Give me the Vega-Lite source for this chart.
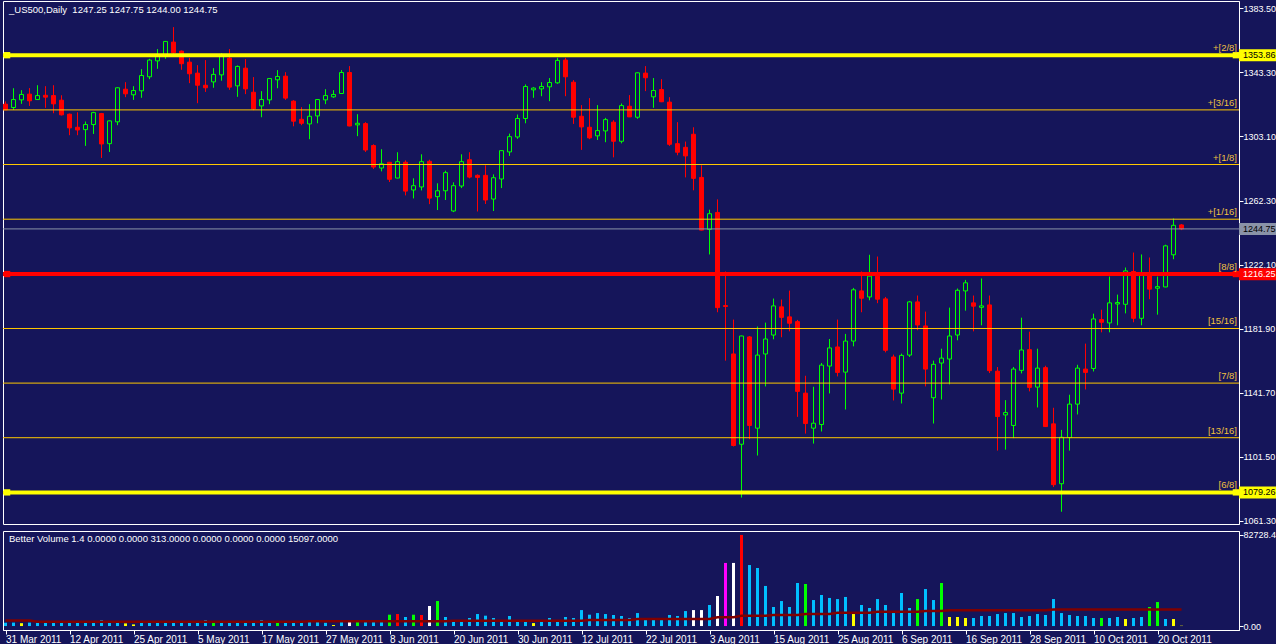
{
"$schema": "https://vega.github.io/schema/vega-lite/v6.json",
"background": "#15155a",
"padding": {"left": 0, "top": 0, "right": 0, "bottom": 0},
"config": {
 "view": {"stroke": "#ffffff", "strokeWidth": 1, "fill": "#15155a"},
 "axis": {"labelColor": "#ffffff", "tickColor": "#ffffff", "domainColor": "#ffffff", "labelFont": "Liberation Sans", "labelFontSize": 9, "grid": false, "tickSize": 4},
 "title": {"color": "#ffffff", "font": "Liberation Sans", "fontSize": 9.5, "fontWeight": "normal", "anchor": "start", "frame": "group"},
 "scale": {"continuousPadding": 0},
 "concat": {"spacing": 3}
},
"datasets": {
"bars": [
{"i":0,"o":1323.1,"h":1324.8,"l":1319.5,"c":1319.5,"v":3000,"vk":"neutral","va":5000},
{"i":1,"o":1321.0,"h":1333.1,"l":1319.5,"c":1326.0,"v":3100,"vk":"neutral","va":5000},
{"i":2,"o":1325.8,"h":1331.9,"l":1323.3,"c":1329.2,"v":2600,"vk":"low","va":5000},
{"i":3,"o":1329.4,"h":1333.2,"l":1322.0,"c":1325.2,"v":3100,"vk":"neutral","va":5000},
{"i":4,"o":1326.0,"h":1335.0,"l":1325.8,"c":1328.5,"v":3000,"vk":"neutral","va":3900},
{"i":5,"o":1328.7,"h":1334.4,"l":1320.8,"c":1327.5,"v":3000,"vk":"neutral","va":3900},
{"i":6,"o":1328.5,"h":1335.0,"l":1317.4,"c":1323.3,"v":3100,"vk":"neutral","va":3900},
{"i":7,"o":1325.6,"h":1328.7,"l":1316.0,"c":1316.4,"v":3000,"vk":"neutral","va":3900},
{"i":8,"o":1316.8,"h":1317.2,"l":1303.6,"c":1308.2,"v":3000,"vk":"neutral","va":3900},
{"i":9,"o":1308.6,"h":1318.0,"l":1303.6,"c":1306.9,"v":3100,"vk":"neutral","va":3900},
{"i":10,"o":1307.1,"h":1312.2,"l":1296.9,"c":1310.3,"v":3000,"vk":"neutral","va":3900},
{"i":11,"o":1310.3,"h":1318.3,"l":1304.4,"c":1317.8,"v":3000,"vk":"neutral","va":3900},
{"i":12,"o":1317.2,"h":1317.6,"l":1289.3,"c":1298.1,"v":5400,"vk":"neutral","va":3900},
{"i":13,"o":1298.3,"h":1312.8,"l":1293.1,"c":1312.6,"v":3000,"vk":"neutral","va":3900},
{"i":14,"o":1312.0,"h":1333.6,"l":1309.9,"c":1333.4,"v":3100,"vk":"neutral","va":3900},
{"i":15,"o":1332.5,"h":1336.9,"l":1327.5,"c":1329.6,"v":2400,"vk":"low","va":3900},
{"i":16,"o":1329.0,"h":1334.4,"l":1325.8,"c":1331.7,"v":1500,"vk":"low","va":3900},
{"i":17,"o":1331.5,"h":1345.1,"l":1327.1,"c":1341.1,"v":2900,"vk":"neutral","va":3900},
{"i":18,"o":1340.3,"h":1351.6,"l":1338.8,"c":1350.8,"v":3000,"vk":"neutral","va":3900},
{"i":19,"o":1350.3,"h":1357.7,"l":1345.3,"c":1353.7,"v":2900,"vk":"neutral","va":3900},
{"i":20,"o":1353.7,"h":1362.8,"l":1351.6,"c":1362.5,"v":3000,"vk":"neutral","va":3900},
{"i":21,"o":1362.1,"h":1371.5,"l":1353.7,"c":1355.4,"v":3000,"vk":"neutral","va":3900},
{"i":22,"o":1356.4,"h":1356.8,"l":1344.7,"c":1348.5,"v":3100,"vk":"neutral","va":3900},
{"i":23,"o":1349.5,"h":1352.2,"l":1336.3,"c":1342.2,"v":3000,"vk":"neutral","va":3900},
{"i":24,"o":1342.6,"h":1347.6,"l":1323.7,"c":1335.0,"v":3000,"vk":"neutral","va":3900},
{"i":25,"o":1335.0,"h":1350.8,"l":1330.8,"c":1333.4,"v":5400,"vk":"neutral","va":3900},
{"i":26,"o":1337.1,"h":1345.7,"l":1333.4,"c":1341.8,"v":3000,"vk":"churn","va":3900},
{"i":27,"o":1341.5,"h":1355.2,"l":1337.8,"c":1353.3,"v":3000,"vk":"neutral","va":3900},
{"i":28,"o":1352.0,"h":1357.7,"l":1332.1,"c":1333.8,"v":3000,"vk":"neutral","va":3900},
{"i":29,"o":1334.6,"h":1347.4,"l":1327.7,"c":1346.8,"v":3100,"vk":"neutral","va":3900},
{"i":30,"o":1345.7,"h":1351.4,"l":1329.4,"c":1332.7,"v":3000,"vk":"neutral","va":3900},
{"i":31,"o":1330.6,"h":1340.1,"l":1319.3,"c":1320.1,"v":3000,"vk":"neutral","va":3900},
{"i":32,"o":1322.0,"h":1331.3,"l":1314.9,"c":1326.0,"v":5400,"vk":"neutral","va":3900},
{"i":33,"o":1325.8,"h":1339.4,"l":1323.1,"c":1339.2,"v":3000,"vk":"neutral","va":3900},
{"i":34,"o":1338.4,"h":1344.5,"l":1333.1,"c":1340.5,"v":3000,"vk":"churn","va":3900},
{"i":35,"o":1340.7,"h":1343.2,"l":1325.8,"c":1326.9,"v":3000,"vk":"neutral","va":3900},
{"i":36,"o":1325.0,"h":1325.6,"l":1309.2,"c":1312.4,"v":3000,"vk":"neutral","va":3900},
{"i":37,"o":1313.6,"h":1321.2,"l":1309.9,"c":1311.1,"v":3100,"vk":"neutral","va":3900},
{"i":38,"o":1310.7,"h":1323.1,"l":1301.1,"c":1315.5,"v":3900,"vk":"neutral","va":4300},
{"i":39,"o":1315.7,"h":1326.2,"l":1311.1,"c":1326.0,"v":3900,"vk":"neutral","va":4300},
{"i":40,"o":1325.8,"h":1332.5,"l":1323.1,"c":1328.5,"v":3000,"vk":"neutral","va":4300},
{"i":41,"o":1327.7,"h":1331.9,"l":1327.1,"c":1329.2,"v":900,"vk":"low","va":4300},
{"i":42,"o":1329.8,"h":1344.5,"l":1329.6,"c":1343.0,"v":3900,"vk":"neutral","va":4300},
{"i":43,"o":1343.0,"h":1347.0,"l":1309.2,"c":1309.4,"v":4300,"vk":"climaxdn","va":4300},
{"i":44,"o":1310.1,"h":1316.8,"l":1303.0,"c":1311.1,"v":3900,"vk":"churn","va":4300},
{"i":45,"o":1310.9,"h":1311.8,"l":1293.1,"c":1294.3,"v":3900,"vk":"neutral","va":4300},
{"i":46,"o":1297.1,"h":1297.9,"l":1282.4,"c":1283.6,"v":3900,"vk":"neutral","va":4300},
{"i":47,"o":1283.0,"h":1294.8,"l":1280.9,"c":1285.7,"v":3900,"vk":"neutral","va":4300},
{"i":48,"o":1286.6,"h":1286.8,"l":1274.2,"c":1275.9,"v":10300,"vk":"churn","va":4300},
{"i":49,"o":1276.7,"h":1292.9,"l":1276.5,"c":1287.0,"v":10900,"vk":"climaxup","va":4300},
{"i":50,"o":1286.6,"h":1287.8,"l":1265.8,"c":1268.5,"v":8200,"vk":"neutral","va":4300},
{"i":51,"o":1269.2,"h":1276.5,"l":1263.9,"c":1271.9,"v":10300,"vk":"churn","va":4300},
{"i":52,"o":1271.1,"h":1291.6,"l":1268.9,"c":1287.0,"v":10000,"vk":"climaxup","va":4300},
{"i":53,"o":1287.2,"h":1288.2,"l":1260.3,"c":1264.1,"v":18200,"vk":"climaxdn","va":4300},
{"i":54,"o":1265.0,"h":1273.4,"l":1256.6,"c":1268.7,"v":22700,"vk":"churn","va":4300},
{"i":55,"o":1268.7,"h":1281.3,"l":1262.9,"c":1280.1,"v":8200,"vk":"neutral","va":4300},
{"i":56,"o":1256.0,"h":1274.0,"l":1255.3,"c":1271.9,"v":5000,"vk":"neutral","va":4800},
{"i":57,"o":1271.7,"h":1291.6,"l":1270.4,"c":1287.0,"v":5000,"vk":"neutral","va":4800},
{"i":58,"o":1288.2,"h":1292.9,"l":1276.5,"c":1277.3,"v":7300,"vk":"neutral","va":4800},
{"i":59,"o":1278.4,"h":1279.0,"l":1255.7,"c":1277.1,"v":10900,"vk":"neutral","va":4800},
{"i":60,"o":1278.4,"h":1284.7,"l":1260.4,"c":1262.9,"v":9400,"vk":"neutral","va":4800},
{"i":61,"o":1263.5,"h":1279.0,"l":1256.0,"c":1276.9,"v":7300,"vk":"neutral","va":4800},
{"i":62,"o":1276.1,"h":1294.1,"l":1270.4,"c":1293.9,"v":5000,"vk":"neutral","va":4800},
{"i":63,"o":1293.1,"h":1304.6,"l":1290.6,"c":1302.7,"v":9100,"vk":"neutral","va":4800},
{"i":64,"o":1302.5,"h":1316.6,"l":1301.3,"c":1314.1,"v":5000,"vk":"neutral","va":4800},
{"i":65,"o":1314.1,"h":1335.5,"l":1311.1,"c":1334.2,"v":5000,"vk":"neutral","va":4800},
{"i":66,"o":1332.1,"h":1333.8,"l":1327.1,"c":1333.2,"v":2700,"vk":"low","va":4800},
{"i":67,"o":1332.7,"h":1336.9,"l":1328.1,"c":1334.2,"v":5000,"vk":"neutral","va":4800},
{"i":68,"o":1334.0,"h":1339.5,"l":1325.0,"c":1336.7,"v":7300,"vk":"neutral","va":4800},
{"i":69,"o":1336.5,"h":1352.2,"l":1335.9,"c":1350.6,"v":5000,"vk":"neutral","va":4800},
{"i":70,"o":1350.8,"h":1352.2,"l":1328.1,"c":1340.3,"v":8200,"vk":"neutral","va":4800},
{"i":71,"o":1336.9,"h":1338.2,"l":1310.7,"c":1314.9,"v":7300,"vk":"neutral","va":4800},
{"i":72,"o":1315.5,"h":1322.5,"l":1294.4,"c":1308.8,"v":14500,"vk":"neutral","va":4800},
{"i":73,"o":1308.6,"h":1326.9,"l":1301.1,"c":1301.9,"v":10300,"vk":"neutral","va":5500},
{"i":74,"o":1303.2,"h":1322.5,"l":1300.6,"c":1306.5,"v":11800,"vk":"neutral","va":5500},
{"i":75,"o":1306.3,"h":1314.5,"l":1299.2,"c":1313.4,"v":10900,"vk":"neutral","va":5500},
{"i":76,"o":1311.8,"h":1313.0,"l":1289.7,"c":1299.8,"v":10000,"vk":"neutral","va":5500},
{"i":77,"o":1299.8,"h":1323.5,"l":1298.5,"c":1322.2,"v":9100,"vk":"neutral","va":5500},
{"i":78,"o":1321.8,"h":1328.8,"l":1315.0,"c":1315.1,"v":7300,"vk":"neutral","va":5500},
{"i":79,"o":1314.9,"h":1343.0,"l":1313.9,"c":1342.8,"v":11800,"vk":"neutral","va":6400},
{"i":80,"o":1342.6,"h":1347.0,"l":1331.3,"c":1339.7,"v":5500,"vk":"neutral","va":6400},
{"i":81,"o":1327.7,"h":1339.5,"l":1320.8,"c":1331.7,"v":5500,"vk":"neutral","va":6400},
{"i":82,"o":1332.3,"h":1338.8,"l":1324.4,"c":1324.6,"v":5500,"vk":"neutral","va":6400},
{"i":83,"o":1324.4,"h":1327.5,"l":1296.9,"c":1297.9,"v":10000,"vk":"neutral","va":6400},
{"i":84,"o":1298.3,"h":1311.8,"l":1291.0,"c":1292.9,"v":9100,"vk":"neutral","va":6400},
{"i":85,"o":1296.0,"h":1299.6,"l":1277.1,"c":1290.6,"v":13600,"vk":"neutral","va":6400},
{"i":86,"o":1304.2,"h":1308.6,"l":1269.0,"c":1276.5,"v":14500,"vk":"climaxdn","va":6400},
{"i":87,"o":1277.1,"h":1284.7,"l":1243.8,"c":1244.0,"v":14500,"vk":"climaxdn","va":6400},
{"i":88,"o":1244.4,"h":1256.8,"l":1228.7,"c":1254.3,"v":19100,"vk":"neutral","va":6400},
{"i":89,"o":1255.1,"h":1263.3,"l":1192.4,"c":1195.3,"v":27300,"vk":"climaxdn","va":8000},
{"i":90,"o":1196.6,"h":1218.0,"l":1162.0,"c":1196.0,"v":57300,"vk":"churnclimax","va":8000},
{"i":91,"o":1166.2,"h":1187.8,"l":1108.1,"c":1108.7,"v":57300,"vk":"climaxdn","va":8000},
{"i":92,"o":1109.5,"h":1177.7,"l":1076.0,"c":1177.5,"v":82728,"vk":"climaxup","va":9400},
{"i":93,"o":1176.9,"h":1177.5,"l":1112.7,"c":1121.3,"v":55400,"vk":"neutral","va":9400},
{"i":94,"o":1119.6,"h":1183.4,"l":1102.4,"c":1165.5,"v":52700,"vk":"neutral","va":9400},
{"i":95,"o":1166.2,"h":1185.9,"l":1145.8,"c":1175.6,"v":36400,"vk":"neutral","va":9400},
{"i":96,"o":1178.1,"h":1201.0,"l":1175.4,"c":1196.4,"v":17300,"vk":"neutral","va":10000},
{"i":97,"o":1195.8,"h":1200.4,"l":1176.7,"c":1189.2,"v":22700,"vk":"neutral","va":10000},
{"i":98,"o":1189.5,"h":1206.0,"l":1180.4,"c":1185.5,"v":17300,"vk":"neutral","va":10000},
{"i":99,"o":1186.5,"h":1187.6,"l":1126.7,"c":1142.7,"v":39100,"vk":"neutral","va":10000},
{"i":100,"o":1141.6,"h":1152.5,"l":1116.2,"c":1122.5,"v":38200,"vk":"churn","va":11000},
{"i":101,"o":1119.6,"h":1145.6,"l":1109.9,"c":1122.7,"v":23600,"vk":"neutral","va":11000},
{"i":102,"o":1121.9,"h":1160.5,"l":1117.5,"c":1159.2,"v":28200,"vk":"neutral","va":11000},
{"i":103,"o":1158.6,"h":1175.6,"l":1141.4,"c":1170.0,"v":25500,"vk":"neutral","va":11000},
{"i":104,"o":1170.6,"h":1187.8,"l":1152.1,"c":1154.6,"v":24500,"vk":"neutral","va":12000},
{"i":105,"o":1154.8,"h":1178.8,"l":1131.3,"c":1174.3,"v":26400,"vk":"neutral","va":12000},
{"i":106,"o":1174.3,"h":1207.7,"l":1171.0,"c":1206.5,"v":10900,"vk":"low","va":12000},
{"i":107,"o":1205.8,"h":1218.0,"l":1192.4,"c":1201.2,"v":19100,"vk":"neutral","va":12000},
{"i":108,"o":1202.0,"h":1228.5,"l":1199.9,"c":1215.1,"v":16400,"vk":"neutral","va":12000},
{"i":109,"o":1215.1,"h":1227.4,"l":1198.1,"c":1200.6,"v":24500,"vk":"neutral","va":12900},
{"i":110,"o":1200.8,"h":1202.0,"l":1167.2,"c":1168.5,"v":19100,"vk":"neutral","va":12900},
{"i":111,"o":1164.3,"h":1165.8,"l":1137.0,"c":1144.1,"v":11800,"vk":"neutral","va":12900},
{"i":112,"o":1141.6,"h":1166.4,"l":1135.1,"c":1165.3,"v":30000,"vk":"neutral","va":12900},
{"i":113,"o":1165.5,"h":1199.5,"l":1164.3,"c":1198.9,"v":16400,"vk":"neutral","va":12900},
{"i":114,"o":1198.9,"h":1202.9,"l":1181.1,"c":1184.4,"v":24500,"vk":"churn","va":12900},
{"i":115,"o":1183.8,"h":1192.8,"l":1145.8,"c":1156.7,"v":33600,"vk":"neutral","va":13700},
{"i":116,"o":1138.7,"h":1162.0,"l":1122.5,"c":1159.7,"v":23600,"vk":"neutral","va":13700},
{"i":117,"o":1160.5,"h":1169.5,"l":1137.6,"c":1163.6,"v":39100,"vk":"churn","va":13700},
{"i":118,"o":1163.0,"h":1195.3,"l":1147.1,"c":1177.5,"v":8200,"vk":"low","va":14300},
{"i":119,"o":1178.1,"h":1207.3,"l":1174.8,"c":1206.2,"v":8200,"vk":"low","va":14300},
{"i":120,"o":1205.8,"h":1212.7,"l":1193.4,"c":1210.9,"v":7300,"vk":"low","va":14300},
{"i":121,"o":1198.3,"h":1202.9,"l":1180.4,"c":1196.2,"v":7300,"vk":"neutral","va":14300},
{"i":122,"o":1195.5,"h":1213.6,"l":1184.2,"c":1196.4,"v":9100,"vk":"neutral","va":14300},
{"i":123,"o":1197.0,"h":1202.9,"l":1154.2,"c":1155.7,"v":9100,"vk":"neutral","va":14300},
{"i":124,"o":1155.4,"h":1158.0,"l":1105.5,"c":1126.9,"v":10900,"vk":"neutral","va":14300},
{"i":125,"o":1127.9,"h":1137.2,"l":1106.1,"c":1129.4,"v":11800,"vk":"neutral","va":14300},
{"i":126,"o":1121.3,"h":1158.0,"l":1113.3,"c":1156.7,"v":11800,"vk":"neutral","va":14300},
{"i":127,"o":1155.9,"h":1189.0,"l":1154.0,"c":1168.7,"v":8200,"vk":"neutral","va":14300},
{"i":128,"o":1168.9,"h":1180.2,"l":1142.7,"c":1145.2,"v":9100,"vk":"neutral","va":14300},
{"i":129,"o":1145.4,"h":1169.5,"l":1132.6,"c":1157.3,"v":10900,"vk":"neutral","va":14300},
{"i":130,"o":1157.6,"h":1158.8,"l":1120.4,"c":1120.6,"v":10000,"vk":"neutral","va":14300},
{"i":131,"o":1122.3,"h":1132.4,"l":1082.6,"c":1084.1,"v":24500,"vk":"neutral","va":15097},
{"i":132,"o":1084.7,"h":1118.5,"l":1067.1,"c":1113.9,"v":11800,"vk":"neutral","va":15097},
{"i":133,"o":1113.7,"h":1140.6,"l":1105.5,"c":1134.7,"v":10000,"vk":"neutral","va":15097},
{"i":134,"o":1134.7,"h":1159.4,"l":1128.2,"c":1157.3,"v":9100,"vk":"neutral","va":15097},
{"i":135,"o":1156.7,"h":1172.7,"l":1143.9,"c":1154.6,"v":9100,"vk":"neutral","va":15097},
{"i":136,"o":1157.1,"h":1191.5,"l":1155.2,"c":1188.2,"v":7300,"vk":"neutral","va":15097},
{"i":137,"o":1187.8,"h":1194.0,"l":1179.8,"c":1186.1,"v":7300,"vk":"churn","va":15097},
{"i":138,"o":1185.7,"h":1214.8,"l":1179.8,"c":1198.3,"v":7300,"vk":"neutral","va":15097},
{"i":139,"o":1197.6,"h":1203.5,"l":1184.2,"c":1198.5,"v":8200,"vk":"neutral","va":15097},
{"i":140,"o":1197.4,"h":1220.5,"l":1191.7,"c":1218.4,"v":6400,"vk":"low","va":15097},
{"i":141,"o":1218.0,"h":1229.9,"l":1186.1,"c":1188.6,"v":7300,"vk":"neutral","va":15097},
{"i":142,"o":1188.6,"h":1228.7,"l":1184.2,"c":1216.7,"v":8200,"vk":"neutral","va":15097},
{"i":143,"o":1216.5,"h":1226.8,"l":1200.6,"c":1206.9,"v":17300,"vk":"churn","va":15097},
{"i":144,"o":1207.5,"h":1214.8,"l":1190.9,"c":1208.5,"v":21800,"vk":"churn","va":15097},
{"i":145,"o":1208.3,"h":1234.8,"l":1208.1,"c":1234.1,"v":6400,"vk":"neutral","va":15097},
{"i":146,"o":1228.5,"h":1251.3,"l":1225.7,"c":1247.0,"v":6400,"vk":"low","va":15097},
{"i":147,"o":1247.25,"h":1247.75,"l":1244.0,"c":1244.75,"v":313,"vk":"low","va":15097}
],
"levels": [
{"p":1353.86,"k":"outer","t":"+[2/8]"},
{"p":1319.5,"k":"minor","t":"+[3/16]"},
{"p":1285.2,"k":"minor","t":"+[1/8]"},
{"p":1250.85,"k":"minor","t":"+[1/16]"},
{"p":1216.4,"k":"pivot","t":"[8/8]"},
{"p":1182.2,"k":"minor","t":"[15/16]"},
{"p":1147.9,"k":"minor","t":"[7/8]"},
{"p":1113.6,"k":"minor","t":"[13/16]"},
{"p":1079.26,"k":"outer","t":"[6/8]"},
{"p":1244.75,"k":"bid","t":""}
],
"tags": [
{"p":1353.86,"k":"outer","t":"1353.86"},
{"p":1244.75,"k":"bid","t":"1244.75"},
{"p":1216.25,"k":"pivot","t":"1216.25"},
{"p":1079.26,"k":"outer","t":"1079.26"}
]
},
"resolve": {"scale": {"x": "independent", "y": "independent", "color": "independent"}},
"vconcat": [
{
 "width": 1236, "height": 523,
 "title": {"text": "_US500,Daily\u00a0\u00a01247.25 1247.75 1244.00 1244.75", "offset": -13, "dx": 6},
 "layer": [
  {
   "data": {"name": "bars"},
   "mark": {"type": "rule", "strokeWidth": 1},
   "encoding": {
    "x": {"field": "i", "type": "quantitative", "scale": {"domain": [-0.3125, 154.1875], "nice": false, "zero": false, "padding": 0}, "axis": null},
    "y": {"field": "l", "type": "quantitative", "scale": {"domain": [1059.4, 1387.9], "nice": false, "zero": false, "padding": 0},
          "axis": {"orient": "right", "title": null, "values": [1383.5,1363.1,1343.3,1322.9,1303.1,1282.7,1262.3,1242.5,1222.1,1202.3,1181.9,1161.5,1141.7,1121.3,1101.5,1081.1,1061.3], "format": ".2f", "labelPadding": 0, "labelOverlap": false, "labelFlush": false}},
    "y2": {"field": "h"},
    "color": {"condition": {"test": "datum.c >= datum.o", "value": "#00ff00"}, "value": "#ff0000"}
   }
  },
  {
   "data": {"name": "bars"},
   "mark": {"type": "bar", "width": 4, "strokeWidth": 1},
   "encoding": {
    "x": {"field": "i", "type": "quantitative"},
    "y": {"field": "o", "type": "quantitative"},
    "y2": {"field": "c"},
    "fill": {"condition": {"test": "datum.c >= datum.o", "value": "#15155a"}, "value": "#ff0000"},
    "stroke": {"condition": {"test": "datum.c >= datum.o", "value": "#00ff00"}, "value": "#ff0000"}
   }
  },
  {
   "data": {"name": "levels"},
   "transform": [{"filter": "datum.k == 'minor' || datum.k == 'bid'"}],
   "mark": {"type": "rule", "strokeWidth": 1},
   "encoding": {
    "y": {"field": "p", "type": "quantitative"},
    "color": {"field": "k", "type": "nominal", "scale": {"domain": ["outer","minor","pivot","bid"], "range": ["#ffff00","#ffc800","#ff0000","#8a93a8"]}, "legend": null}
   }
  },
  {
   "data": {"name": "levels"},
   "transform": [{"filter": "datum.k == 'outer' || datum.k == 'pivot'"}],
   "mark": {"type": "rule", "strokeWidth": 4},
   "encoding": {
    "y": {"field": "p", "type": "quantitative"},
    "color": {"field": "k", "type": "nominal", "legend": null}
   }
  },
  {
   "data": {"name": "levels"},
   "transform": [{"filter": "datum.k == 'outer' || datum.k == 'pivot'"}],
   "mark": {"type": "point", "shape": "square", "filled": true, "size": 40, "opacity": 1},
   "encoding": {
    "x": {"datum": 0.2, "type": "quantitative"},
    "y": {"field": "p", "type": "quantitative"},
    "color": {"field": "k", "type": "nominal", "legend": null}
   }
  },
  {
   "data": {"name": "levels"},
   "transform": [{"filter": "datum.k == 'outer' || datum.k == 'pivot'"}],
   "mark": {"type": "point", "shape": "square", "filled": true, "size": 40, "opacity": 1},
   "encoding": {
    "x": {"datum": 153.8, "type": "quantitative"},
    "y": {"field": "p", "type": "quantitative"},
    "color": {"field": "k", "type": "nominal", "legend": null}
   }
  },
  {
   "data": {"name": "levels"},
   "transform": [{"filter": "datum.k != 'bid'"}],
   "mark": {"type": "text", "align": "right", "baseline": "bottom", "dx": -2, "dy": -2, "font": "Liberation Sans", "fontSize": 9.5, "color": "#f0c040"},
   "encoding": {
    "x": {"datum": 154.1875, "type": "quantitative"},
    "y": {"field": "p", "type": "quantitative"},
    "text": {"field": "t"}
   }
  },
  {
   "data": {"name": "tags"},
   "mark": {"type": "bar", "orient": "horizontal", "height": 12},
   "encoding": {
    "x": {"datum": 154.1875, "type": "quantitative"},
    "x2": {"datum": 159.2},
    "y": {"field": "p", "type": "quantitative"},
    "color": {"field": "k", "type": "nominal", "legend": null}
   }
  },
  {
   "data": {"name": "tags"},
   "mark": {"type": "text", "align": "left", "baseline": "middle", "dx": 4, "font": "Liberation Sans", "fontSize": 9},
   "encoding": {
    "x": {"datum": 154.1875, "type": "quantitative"},
    "y": {"field": "p", "type": "quantitative"},
    "text": {"field": "t"},
    "fill": {"condition": {"test": "datum.k == 'pivot'", "value": "#ffffff"}, "value": "#000000"}
   }
  }
 ]
},
{
 "width": 1236, "height": 99,
 "data": {"name": "bars"},
 "title": {"text": "Better Volume 1.4 0.0000 0.0000 313.0000 0.0000 0.0000 0.0000 15097.0000", "offset": -13, "dx": 6},
 "layer": [
  {
   "mark": {"type": "bar", "width": 3},
   "encoding": {
    "x": {"field": "i", "type": "quantitative", "scale": {"domain": [-0.3125, 154.1875], "nice": false, "zero": false, "padding": 0},
          "axis": {"orient": "bottom", "title": null, "values": [0,8,16,24,32,40,48,56,64,72,80,88,96,104,112,120,128,136,144],
                   "labelExpr": "['31 Mar 2011','12 Apr 2011','25 Apr 2011','5 May 2011','17 May 2011','27 May 2011','8 Jun 2011','20 Jun 2011','30 Jun 2011','12 Jul 2011','22 Jul 2011','3 Aug 2011','15 Aug 2011','25 Aug 2011','6 Sep 2011','16 Sep 2011','28 Sep 2011','10 Oct 2011','20 Oct 2011'][round(datum.value/8)]",
                   "labelAlign": "left", "labelPadding": 0, "labelFontSize": 10, "labelOverlap": false, "labelFlush": false}},
    "y": {"field": "v", "type": "quantitative", "scale": {"domain": [-3600, 86300], "nice": false, "zero": false, "padding": 0},
          "axis": {"orient": "right", "title": null, "values": [82728.45, 0], "format": ".2f", "labelPadding": 0, "labelOverlap": false, "labelFlush": false}},
    "y2": {"datum": 0},
    "color": {"field": "vk", "type": "nominal", "scale": {"domain": ["neutral","low","churn","climaxdn","climaxup","churnclimax"], "range": ["#00bfff","#ffff00","#00ff00","#ffffff","#ff0000","#ff00ff"]}, "legend": null}
   }
  },
  {
   "mark": {"type": "line", "color": "#800000", "strokeWidth": 2.5},
   "encoding": {
    "x": {"field": "i", "type": "quantitative"},
    "y": {"field": "va", "type": "quantitative"}
   }
  }
 ]
}
]
}
